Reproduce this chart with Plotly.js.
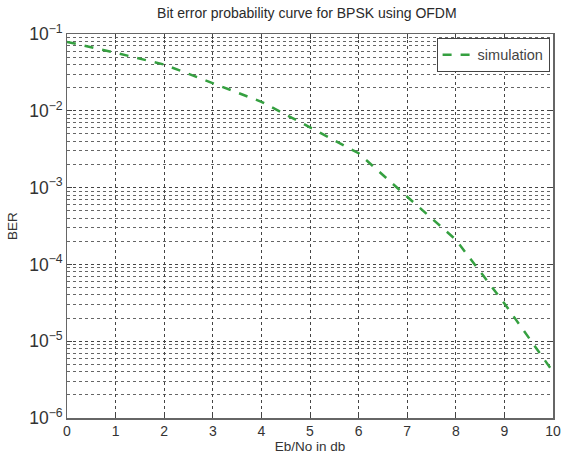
<!DOCTYPE html>
<html>
<head>
<meta charset="utf-8">
<script src="https://cdn.plot.ly/plotly-3.0.1.min.js"></script>
<style>html,body{margin:0;padding:0;background:#fff;}#chart{width:563px;height:457px;}</style>
</head>
<body>
<div id="chart"></div>
<script>
var ebno = [0, 1, 2, 3, 4, 5, 6, 7, 8, 9, 10];
var ber = [0.079, 0.057, 0.040, 0.0228, 0.0131, 0.0061, 0.0028, 0.00076, 0.00021, 0.000031, 0.0000040];
var seriesName = 'simulation';
var xTicks = [0, 1, 2, 3, 4, 5, 6, 7, 8, 9, 10];

var trace = {
  x: ebno, y: ber, type: 'scatter', mode: 'lines', name: seriesName,
  line: {color: '#35a040', width: 2.5, dash: 'dash'}
};

var fam = 'Liberation Sans, Arial, sans-serif';

var layout = {
  width: 563, height: 457,
  margin: {l: 67, r: 10, t: 34, b: 39},
  paper_bgcolor: '#fff', plot_bgcolor: '#fff',
  font: {family: fam, color: '#333', size: 12},
  title: {text: 'Bit error probability curve for BPSK using OFDM', x: 0.545, xanchor: 'center', y: 0.972, yanchor: 'middle', font: {family: fam, size: 14, color: '#2a2a2a'}},
  showlegend: true,
  legend: {x: 0.993, y: 0.99, xanchor: 'right', yanchor: 'top', bgcolor: '#fff', bordercolor: '#444', borderwidth: 1, font: {family: fam, size: 14.5, color: '#444'}},
  xaxis: {
    range: [0, 10], tickvals: xTicks, ticktext: xTicks.map(String),
    showgrid: true, gridcolor: '#444', griddash: 'dot', gridwidth: 1,
    zeroline: false, showline: true, linecolor: '#666', linewidth: 1.5, mirror: 'ticks',
    ticks: 'inside', ticklen: 5, tickcolor: '#444',
    tickfont: {family: fam, size: 14, color: '#333'},
    title: {text: 'Eb/No in db', standoff: 3, font: {family: fam, size: 13.5, color: '#333'}}
  },
  yaxis: {
    type: 'log', range: [-6, -1], dtick: 1, exponentformat: 'power',
    showgrid: true, gridcolor: '#444', griddash: 'dot', gridwidth: 1,
    minor: {dtick: 'D1', showgrid: true, gridcolor: '#666', griddash: 'dot', gridwidth: 1, ticks: ''},
    zeroline: false, showline: true, linecolor: '#666', linewidth: 1.5, mirror: 'ticks',
    ticks: 'inside', ticklen: 5, tickcolor: '#444',
    tickfont: {family: fam, size: 14, color: '#333'},
    title: {text: 'BER', standoff: 8, font: {family: fam, size: 13.5, color: '#333'}}
  }
};

Plotly.newPlot('chart', [trace], layout, {displayModeBar: false, staticPlot: true});
</script>
</body>
</html>
